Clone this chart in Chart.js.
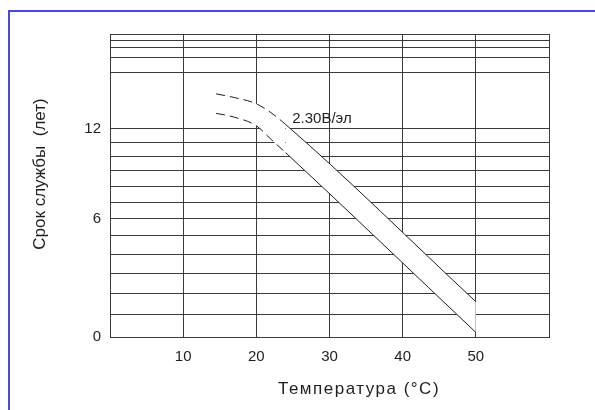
<!DOCTYPE html>
<html>
<head>
<meta charset="utf-8">
<script src="https://cdn.jsdelivr.net/npm/chart.js@4.4.1/dist/chart.umd.min.js"></script>
<style>
  html, body { margin: 0; padding: 0; background: #fff; }
  #wrap { position: relative; width: 595px; height: 410px; overflow: hidden; }
  #frame { position: absolute; left: 8px; top: 10px; width: 620px; height: 440px;
           border-left: 2px solid #4a4ad6; border-top: 2px solid #4a4ad6; }
  canvas { position: absolute; left: 0; top: 0; }
</style>
</head>
<body>
<div id="wrap">
  <div id="frame"></div>
  <canvas id="chart" width="595" height="410"></canvas>
</div>
<script>
// ── data ──
const tempC = [14.5, 17, 20, 22, 24, 50];          // temperature, °C
const lifeUpper = [14.7, 14.4, 13.9, 13.2, 12.3, 1.6];   // years
const lifeLower = [13.15, 12.85, 12.2, 11.2, 10.25, 0.2]; // years
const dashedUntil = 24;                             // curve is dashed below this temperature

const xTicks = [0, 10, 20, 30, 40, 50, 60];
const xLabels = [10, 20, 30, 40, 50];
const yGrid = [0, 1, 2, 3, 4, 5, 6, 7, 8, 9, 10, 11, 12, 16.5, 17.8, 18.7, 19.4, 20];
const yLabels = [0, 6, 12];
const curveLabel = '2.30В/эл';

// the printed grid is squeezed towards the top: pixel ~ ln(y + C)
const C = 16.5;

class SqueezeScale extends Chart.LinearScale {
    static id = 'squeeze';
    static defaults = {};
    _t(v) { return Math.log((v + C) / C); }
    getPixelForValue(value) {
        if (value === null || value === undefined || isNaN(value)) return NaN;
        const t0 = this._t(this.min), t1 = this._t(this.max);
        return this.getPixelForDecimal((this._t(value) - t0) / (t1 - t0));
    }
    getValueForPixel(pixel) {
        const t0 = this._t(this.min), t1 = this._t(this.max);
        const d = this.getDecimalForPixel(pixel);
        return C * Math.exp(t0 + d * (t1 - t0)) - C;
    }
}
Chart.register(SqueezeScale);

const FONT = '"Liberation Sans", Arial, sans-serif';
const GRID = '#3a3a3a';

const toPoints = ys => tempC.map((x, i) => ({ x: x, y: ys[i] }));
const dashSeg = { borderDash: ctx => ctx.p1.parsed.x <= dashedUntil ? [9, 5] : undefined };

// texts: curve label + axis titles
const textPlugin = {
    id: 'texts',
    afterDatasetsDraw(chart) {
        const { ctx: c, scales: { x, y } } = chart;
        c.save();
        c.fillStyle = '#1e1e1e';
        c.font = '15px ' + FONT;
        c.textAlign = 'left';
        c.textBaseline = 'alphabetic';
        c.fillText(curveLabel, x.getPixelForValue(24.9), y.getPixelForValue(12.4));

        c.font = '17px ' + FONT;
        c.textAlign = 'center';
        c.letterSpacing = '1.5px';
        c.fillText('Температура (°C)', 359, 394);

        c.letterSpacing = '0px';
        c.translate(45, 174);
        c.rotate(-Math.PI / 2);
        c.fillText('Срок службы  (лет)', 0, 0);
        c.restore();
    }
};

new Chart(document.getElementById('chart'), {
    type: 'line',
    data: {
        datasets: [
            {
                data: toPoints(lifeUpper),
                borderColor: '#1e1e1e',
                borderWidth: 1,
                backgroundColor: '#fff',
                fill: '+1',
                pointRadius: 0,
                cubicInterpolationMode: 'monotone',
                segment: dashSeg,
            },
            {
                data: toPoints(lifeLower),
                borderColor: '#1e1e1e',
                borderWidth: 1,
                fill: false,
                pointRadius: 0,
                cubicInterpolationMode: 'monotone',
                segment: dashSeg,
            },
        ],
    },
    options: {
        responsive: false,
        animation: false,
        layout: { padding: { left: 0, top: 34, right: 46, bottom: 0 } },
        plugins: {
            legend: { display: false },
            tooltip: { enabled: false },
            filler: { drawTime: 'beforeDatasetsDraw' },
        },
        scales: {
            x: {
                type: 'linear',
                min: 0, max: 60,
                afterFit: s => { s.height = 73; },
                afterBuildTicks: s => { s.ticks = xTicks.map(v => ({ value: v })); },
                grid: { color: GRID, lineWidth: 1, drawTicks: false },
                border: { color: GRID, width: 1 },
                ticks: {
                    autoSkip: false,
                    maxRotation: 0,
                    padding: 11,
                    color: '#1e1e1e',
                    font: { family: FONT, size: 15 },
                    callback: v => xLabels.includes(v) ? String(v) : '',
                },
            },
            y: {
                type: 'squeeze',
                min: 0, max: 20,
                afterFit: s => { s.width = 110; },
                afterBuildTicks: s => { s.ticks = yGrid.map(v => ({ value: v })); },
                grid: { color: GRID, lineWidth: 1, drawTicks: false },
                border: { color: GRID, width: 1 },
                ticks: {
                    autoSkip: false,
                    padding: 9,
                    color: '#1e1e1e',
                    font: { family: FONT, size: 15 },
                    callback: v => yLabels.includes(v) ? String(v) : '',
                },
            },
        },
    },
    plugins: [textPlugin],
});
</script>
</body>
</html>
